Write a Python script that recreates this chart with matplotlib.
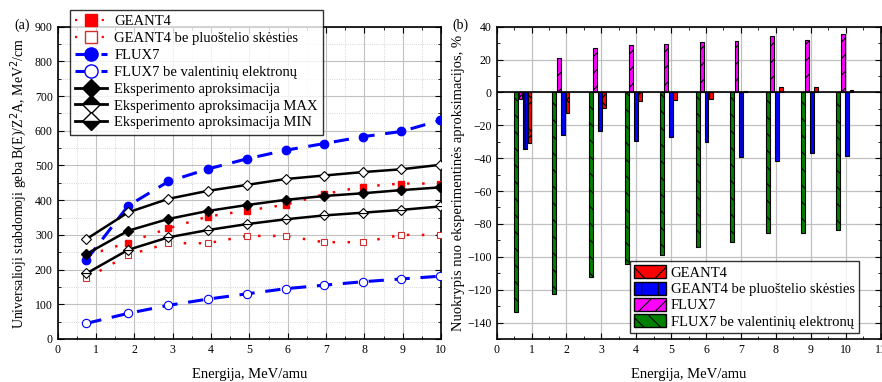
import matplotlib.pyplot as plt
from matplotlib.lines import Line2D
from matplotlib.patches import Patch
from matplotlib.ticker import MultipleLocator
import numpy as np

plt.rcParams['font.family'] = ['Liberation Serif', 'DejaVu Serif']
plt.rcParams['hatch.linewidth'] = 0.8

# Energijos taškai, MeV/amu
energija = [0.75, 1.84, 2.89, 3.92, 4.93, 5.95, 6.94, 7.96, 8.96, 9.98]

# (a) stabdomoji geba
geant4 = [240, 278, 319, 353, 370, 387, 417, 439, 448, 448]
geant4_be = [175, 242, 276, 276, 297, 297, 279, 279, 300, 300]
flux7 = [228, 384, 454, 490, 519, 544, 563, 583, 598, 630]
flux7_be = [45, 74, 97, 115, 130, 145, 155, 165, 173, 181]
eksp = [245, 312, 346, 369, 386, 401, 412, 420, 429, 437]
eksp_max = [288, 365, 404, 427, 444, 461, 471, 481, 489, 502]
eksp_min = [189, 257, 293, 314, 331, 345, 356, 364, 372, 382]

# (b) nuokrypis, %
nuok_geant4 = [-30.6, -12.4, -9.2, -5.1, -4.9, -4.1, 0.8, 3.3, 3.3, 1.6]
nuok_geant4_be = [-34.3, -25.7, -23.3, -29.8, -26.9, -30.0, -39.4, -41.6, -36.9, -38.6]
nuok_flux7 = [-3.7, 21.0, 26.9, 28.6, 29.4, 30.4, 31.0, 34.3, 32.0, 35.5]
nuok_flux7_be = [-133.8, -122.7, -112.2, -104.4, -98.9, -94.1, -90.8, -85.8, -85.8, -83.4]

fig = plt.figure(figsize=(8.82, 3.82), dpi=100)
ax1 = fig.add_axes([0.0654, 0.1126, 0.4346, 0.8175])
ax2 = fig.add_axes([0.5631, 0.1126, 0.4352, 0.8175])

for ax in (ax1, ax2):
    ax.tick_params(which='both', direction='in', top=True, right=True, labelsize=8.5)
    ax.tick_params(which='major', length=4)
    ax.tick_params(which='minor', length=2)
    for s in ax.spines.values():
        s.set_linewidth(1.2)

# ---- (a)
ax1.set_xlim(0, 10)
ax1.set_ylim(0, 900)
ax1.xaxis.set_major_locator(MultipleLocator(1))
ax1.xaxis.set_minor_locator(MultipleLocator(0.5))
ax1.yaxis.set_major_locator(MultipleLocator(100))
ax1.yaxis.set_minor_locator(MultipleLocator(50))
ax1.grid(True, which='major', color='#c0c0c0', lw=0.8)
ax1.grid(True, which='minor', color='#c8c8c8', lw=0.6, ls=':')
ax1.set_axisbelow(True)

ax1.plot(energija, geant4, color='red', ls=(0, (1, 5)), lw=1.8, marker='s',
         ms=5, mfc='red', mec='red', zorder=3)
ax1.plot(energija, geant4_be, color='red', ls=(0, (1, 5)), lw=1.8, marker='s',
         ms=5, mfc='white', mec='#d03030', mew=0.8, zorder=3)
ax1.plot(energija, flux7, color='blue', ls=(0, (5, 3.5)), lw=2.2, marker='o',
         ms=6, mfc='blue', mec='blue', zorder=3)
ax1.plot(energija, flux7_be, color='blue', ls=(0, (5, 3.5)), lw=2.2, marker='o',
         ms=6, mfc='white', mec='blue', mew=0.8, zorder=3)
ax1.plot(energija, eksp, color='black', lw=1.8, marker='D', ms=5.5, mfc='black', mec='black', zorder=4)
ax1.plot(energija, eksp_max, color='black', lw=1.8, marker='D', ms=5.5, mfc='white', mec='black', mew=0.8, zorder=4)
ax1.plot(energija, eksp_min, color='black', lw=1.8, marker='D', ms=5.5, mfc='white', mec='black', mew=0.8,
         fillstyle='bottom', markerfacecoloralt='white', zorder=4)

ax1.set_xlabel('Energija, MeV/amu', fontsize=10.5, labelpad=9)
ax1.set_ylabel('Universalioji stabdomoji geba B(E)/Z$^2$A, MeV$^2$/cm', fontsize=10, labelpad=4)

h1 = [
    Line2D([], [], color='red', ls=(0, (1, 5)), lw=1.6, marker='s', ms=8, mfc='red', mec='red'),
    Line2D([], [], color='red', ls=(0, (1, 5)), lw=1.6, marker='s', ms=8, mfc='white', mec='#d03030'),
    Line2D([], [], color='blue', ls=(0, (5, 3.5)), lw=2.2, marker='o', ms=9.5, mfc='blue', mec='blue'),
    Line2D([], [], color='blue', ls=(0, (5, 3.5)), lw=2.2, marker='o', ms=9.5, mfc='white', mec='blue'),
    Line2D([], [], color='black', lw=2, marker='D', ms=9, mfc='black', mec='black'),
    Line2D([], [], color='black', lw=2, marker='D', ms=9, mfc='black', mec='black', fillstyle='top', markerfacecoloralt='white'),
    Line2D([], [], color='black', lw=2, marker='D', ms=9, mfc='black', mec='black', fillstyle='bottom', markerfacecoloralt='white'),
]
l1 = ['GEANT4', 'GEANT4 be pluoštelio skėsties', 'FLUX7', 'FLUX7 be valentinių elektronų',
      'Eksperimento aproksimacija', 'Eksperimento aproksimacija MAX', 'Eksperimento aproksimacija MIN']
leg1 = fig.legend(h1, l1, loc='upper left', bbox_to_anchor=(70 / 882, 1 - 10 / 382),
                  fontsize=10.5, frameon=True, fancybox=False, edgecolor='black',
                  handlelength=2.2, handletextpad=0.5, labelspacing=0.25, borderpad=0.35,
                  borderaxespad=0)
leg1.get_frame().set_linewidth(1.0)

# ---- (b)
w = 0.11
x = np.array(energija)
ax2.bar(x - 0.19, nuok_flux7_be, w, color='green', edgecolor='black', lw=0.8, hatch='\\\\', zorder=3)
ax2.bar(x - 0.065, nuok_flux7, w, color='magenta', edgecolor='black', lw=0.8, hatch='//', zorder=3)
ax2.bar(x + 0.065, nuok_geant4_be, w, color='blue', edgecolor='black', lw=0.8, hatch='|', zorder=3)
ax2.bar(x + 0.19, nuok_geant4, w, color='red', edgecolor='black', lw=0.8, hatch='x', zorder=3)
ax2.axhline(0, color='black', lw=1.2, zorder=4)

ax2.set_xlim(0, 11)
ax2.set_ylim(-150, 40)
ax2.xaxis.set_major_locator(MultipleLocator(1))
ax2.xaxis.set_minor_locator(MultipleLocator(0.5))
ax2.yaxis.set_major_locator(MultipleLocator(20))
ax2.yaxis.set_minor_locator(MultipleLocator(10))
ax2.grid(True, which='major', color='#c0c0c0', lw=0.9)
ax2.set_axisbelow(True)
ax2.set_xlabel('Energija, MeV/amu', fontsize=10.5, labelpad=9)
ax2.set_ylabel('Nuokrypis nuo eksperimentinės aproksimacijos, %', fontsize=10.5, labelpad=2)

h2 = [Patch(facecolor='red', edgecolor='black', hatch='x'),
      Patch(facecolor='blue', edgecolor='black', hatch='|'),
      Patch(facecolor='magenta', edgecolor='black', hatch='//'),
      Patch(facecolor='green', edgecolor='black', hatch='\\\\')]
l2 = ['GEANT4', 'GEANT4 be pluoštelio skėsties', 'FLUX7', 'FLUX7 be valentinių elektronų']
leg2 = fig.legend(h2, l2, loc='upper left', bbox_to_anchor=(630 / 882, 1 - 261 / 382),
                  fontsize=10.5, frameon=True, fancybox=False, edgecolor='black',
                  handlelength=2.2, handleheight=1.0, handletextpad=0.3, labelspacing=0.12,
                  borderpad=0.3, borderaxespad=0)
leg2.get_frame().set_linewidth(1.0)

fig.text(14 / 882, 1 - 25 / 382, '(a)', fontsize=10, va='center', ha='left')
fig.text(452 / 882, 1 - 25 / 382, '(b)', fontsize=10, va='center', ha='left')

fig.savefig('out.png', dpi=100)
